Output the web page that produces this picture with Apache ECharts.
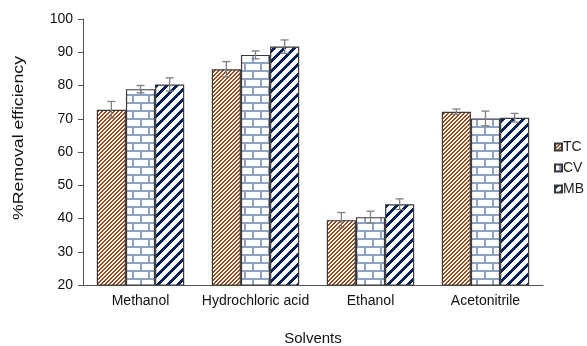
<!DOCTYPE html>
<html>
<head>
<meta charset="utf-8">
<script src="https://cdn.jsdelivr.net/npm/echarts@6/dist/echarts.min.js"></script>
<style>html,body{margin:0;padding:0;background:#fff;}#c{width:587px;height:346px;}</style>
</head>
<body>
<div id="c"></div>
<script>
var categories = ['Methanol', 'Hydrochloric acid', 'Ethanol', 'Acetonitrile'];
var seriesNames = ['TC', 'CV', 'MB'];
var tcValues = [72.7, 84.9, 39.5, 72.1];
var cvValues = [78.9, 89.2, 40.4, 70.1];
var mbValues = [80.3, 91.7, 44.3, 70.3];
var tcErr = [2.5, 2.3, 2.3, 0.8];
var cvErr = [1.1, 1.2, 1.8, 2.2];
var mbErr = [2.0, 2.0, 1.6, 1.3];
var yTicks = [20, 30, 40, 50, 60, 70, 80, 90, 100];

function stripe(p, w, rgb) {
  var c = document.createElement('canvas');
  c.width = p; c.height = p;
  var ctx = c.getContext('2d');
  var img = ctx.createImageData(p, p);
  for (var y = 0; y < p; y++) for (var x = 0; x < p; x++) {
    var i = (y * p + x) * 4;
    var on = ((x + y) % p) < w;
    img.data[i] = on ? rgb[0] : 255;
    img.data[i + 1] = on ? rgb[1] : 255;
    img.data[i + 2] = on ? rgb[2] : 255;
    img.data[i + 3] = 255;
  }
  ctx.putImageData(img, 0, 0);
  return c;
}
function brick() {
  var c = document.createElement('canvas');
  c.width = 16; c.height = 16;
  var ctx = c.getContext('2d');
  ctx.fillStyle = '#fff'; ctx.fillRect(0, 0, 16, 16);
  ctx.fillStyle = '#8ea2c4';
  ctx.fillRect(0, 6, 16, 2);
  ctx.fillRect(0, 14, 16, 2);
  ctx.fillRect(4, 0, 2, 6);
  ctx.fillRect(12, 8, 2, 6);
  return c;
}
var pats = [
  {image: stripe(4, 2, [156, 74, 24]), repeat: 'repeat'},
  {image: brick(), repeat: 'repeat'},
  {image: stripe(10, 4, [0, 32, 96]), repeat: 'repeat'}
];
var values = [tcValues, cvValues, mbValues];
var errs = [tcErr, cvErr, mbErr];

var chart = echarts.init(document.getElementById('c'));
var series = [];
seriesNames.forEach(function (n, k) {
  series.push({
    name: n, type: 'bar', data: values[k],
    barGap: '0%', barCategoryGap: '24%',
    itemStyle: {color: pats[k], borderColor: '#3a3a3a', borderWidth: 1.2},
    emphasis: {disabled: true}
  });
});
seriesNames.forEach(function (n, k) {
  series.push({
    type: 'custom',
    data: categories.map(function (c, i) { return [i, values[k][i], errs[k][i]]; }),
    z: 10,
    renderItem: function (params, api) {
      var i = api.value(0), v = api.value(1), e = api.value(2);
      var cw = api.size([1, 0])[0];
      var bw = cw * 0.76 / 3;
      var p = api.coord([i, v]);
      var x = p[0] + (k - 1) * bw;
      var top = api.coord([i, v + e])[1];
      var bot = api.coord([i, v - e])[1];
      var st = {stroke: '#7f7f7f', lineWidth: 1.3};
      return {type: 'group', children: [
        {type: 'line', shape: {x1: x, y1: top, x2: x, y2: bot}, style: st},
        {type: 'line', shape: {x1: x - 4, y1: top, x2: x + 4, y2: top}, style: st},
        {type: 'line', shape: {x1: x - 4, y1: bot, x2: x + 4, y2: bot}, style: st}
      ]};
    },
    silent: true
  });
});

chart.setOption({
  animation: false,
  backgroundColor: '#fff',
  textStyle: {fontFamily: 'Liberation Sans, Arial, sans-serif'},
  grid: {left: 83, right: 44, top: 19, bottom: 61, containLabel: false, outerBoundsMode: 'none'},
  graphic: [{
    type: 'text', x: 19, y: 138, rotation: Math.PI / 2, scaleX: 1.18, scaleY: 1,
    style: {text: '%Removal efficiency', fontSize: 15, fill: '#111',
      fontFamily: 'Liberation Sans, Arial, sans-serif', align: 'center', verticalAlign: 'middle'}
  }],
  legend: {
    data: seriesNames, orient: 'vertical', left: 549, top: 135,
    icon: 'rect', itemWidth: 7, itemHeight: 7, itemGap: 7,
    textStyle: {fontSize: 14, color: '#222', padding: [0, 0, 0, -4]}
  },
  xAxis: {
    type: 'category', data: categories,
    name: 'Solvents', nameLocation: 'middle', nameGap: 46,
    nameTextStyle: {fontSize: 15, color: '#111'},
    axisLine: {lineStyle: {color: '#555', width: 1}},
    axisTick: {alignWithLabel: true, length: -4, lineStyle: {color: '#555'}},
    axisLabel: {interval: 0, fontSize: 14, color: '#111', margin: 9}
  },
  yAxis: {
    type: 'value', min: 20, max: 100, interval: 10,
    axisLine: {show: true, lineStyle: {color: '#555', width: 1}},
    axisTick: {show: true, length: 5, lineStyle: {color: '#555'}},
    axisLabel: {fontSize: 14, color: '#111', margin: 10},
    splitLine: {show: false}
  },
  series: series
});
</script>
</body>
</html>
